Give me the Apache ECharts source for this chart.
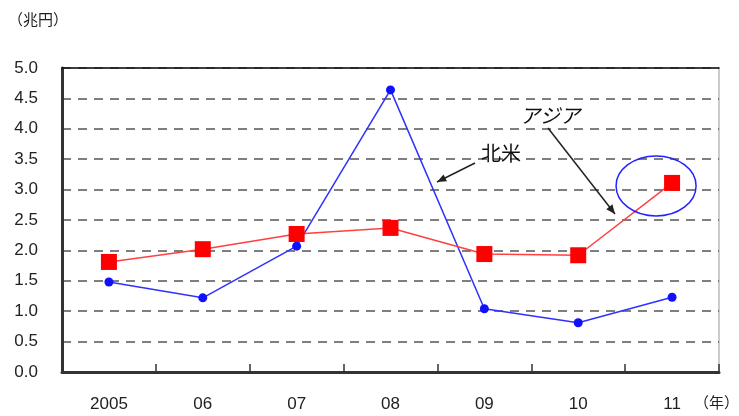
<!DOCTYPE html>
<html>
<head>
<meta charset="utf-8">
<script src="https://cdn.jsdelivr.net/npm/echarts@6/dist/echarts.min.js"></script>
<style>
  html, body { margin: 0; padding: 0; background: #fff; }
  #chart { width: 739px; height: 416px; }
</style>
</head>
<body>
<div id="chart"></div>
<script>
// Annual values (trillion yen)
const years = ['2005', '06', '07', '08', '09', '10', '11'];
const northAmerica = [1.48, 1.22, 2.07, 4.64, 1.04, 0.81, 1.23];
const asia = [1.81, 2.02, 2.27, 2.37, 1.94, 1.92, 3.11];
const yTicks = { min: 0, max: 5, step: 0.5 };

const numFont = '"Liberation Sans", Arial, sans-serif';
const jpFont = '"Noto Sans CJK JP", sans-serif';

const chart = echarts.init(document.getElementById('chart'));

chart.setOption({
  animation: false,
  backgroundColor: '#fff',
  grid: {
    left: 62, right: 20, top: 68, bottom: 44,
    show: true, borderColor: '#999', borderWidth: 1, backgroundColor: 'transparent'
  },
  xAxis: [
    {
      type: 'category',
      data: years,
      boundaryGap: true,
      axisLine: { lineStyle: { color: '#333', width: 3 } },
      axisTick: { show: true, inside: true, length: 8, lineStyle: { color: '#333', width: 1.5 } },
      axisLabel: { color: '#222', fontSize: 17, fontFamily: numFont, margin: 24 }
    },
    {
      // solid top frame line
      type: 'category', position: 'top', data: years,
      axisLine: { show: true, lineStyle: { color: '#111', width: 1.5 } },
      axisTick: { show: false }, axisLabel: { show: false }, splitLine: { show: false }
    }
  ],
  yAxis: {
    type: 'value',
    min: yTicks.min, max: yTicks.max, interval: yTicks.step,
    axisLine: { show: true, lineStyle: { color: '#333', width: 3 } },
    axisTick: { show: false },
    axisLabel: { color: '#222', fontSize: 17, fontFamily: numFont, margin: 24,
                 formatter: v => v.toFixed(1) },
    splitLine: { show: true, lineStyle: { color: '#555', width: 1.5, type: [9, 7] } }
  },
  series: [
    {
      name: '北米', type: 'line', data: northAmerica,
      symbol: 'circle', symbolSize: 9,
      itemStyle: { color: '#1010ff' },
      lineStyle: { color: '#3030ff', width: 1.5 },
      z: 3
    },
    {
      name: 'アジア', type: 'line', data: asia,
      symbol: 'rect', symbolSize: 16,
      itemStyle: { color: '#ff0000' },
      lineStyle: { color: '#ff4040', width: 1.5 },
      z: 4
    }
  ]
});

// Annotation overlay: unit labels, series callouts and highlight ellipse
const last = years.length - 1;
const asiaPt = chart.convertToPixel({ seriesIndex: 1 }, [last, asia[last]]);

function arrow(x1, y1, x2, y2) {
  const ang = Math.atan2(y2 - y1, x2 - x1);
  const L = 10, A = 0.4;
  return [
    { type: 'line', shape: { x1, y1, x2, y2 }, style: { stroke: '#222', lineWidth: 1.5 }, z: 20 },
    { type: 'polygon', shape: { points: [
        [x2, y2],
        [x2 - L * Math.cos(ang - A), y2 - L * Math.sin(ang - A)],
        [x2 - L * Math.cos(ang + A), y2 - L * Math.sin(ang + A)]
      ] }, style: { fill: '#222' }, z: 20 }
  ];
}

chart.setOption({
  graphic: [
    { type: 'text', left: 8, top: 12, style: { text: '（兆円）', fill: '#222', font: '15px ' + jpFont }, z: 20 },
    { type: 'text', right: 0, top: 395, style: { text: '（年）', fill: '#222', font: '15px ' + jpFont }, z: 20 },
    { type: 'text', x: 520, y: 105, style: { text: 'アジア', fill: '#111', font: 'italic 20px ' + jpFont }, z: 20 },
    { type: 'text', x: 481, y: 143, style: { text: '北米', fill: '#111', font: '20px ' + jpFont }, z: 20 },
    ...arrow(548, 128, 615, 214),
    ...arrow(475, 163, 437, 182),
    { type: 'ellipse', shape: { cx: asiaPt[0] - 16, cy: asiaPt[1] + 3, rx: 40, ry: 30 },
      style: { fill: 'none', stroke: '#2222ff', lineWidth: 1.5 }, z: 20 }
  ]
});
</script>
</body>
</html>
